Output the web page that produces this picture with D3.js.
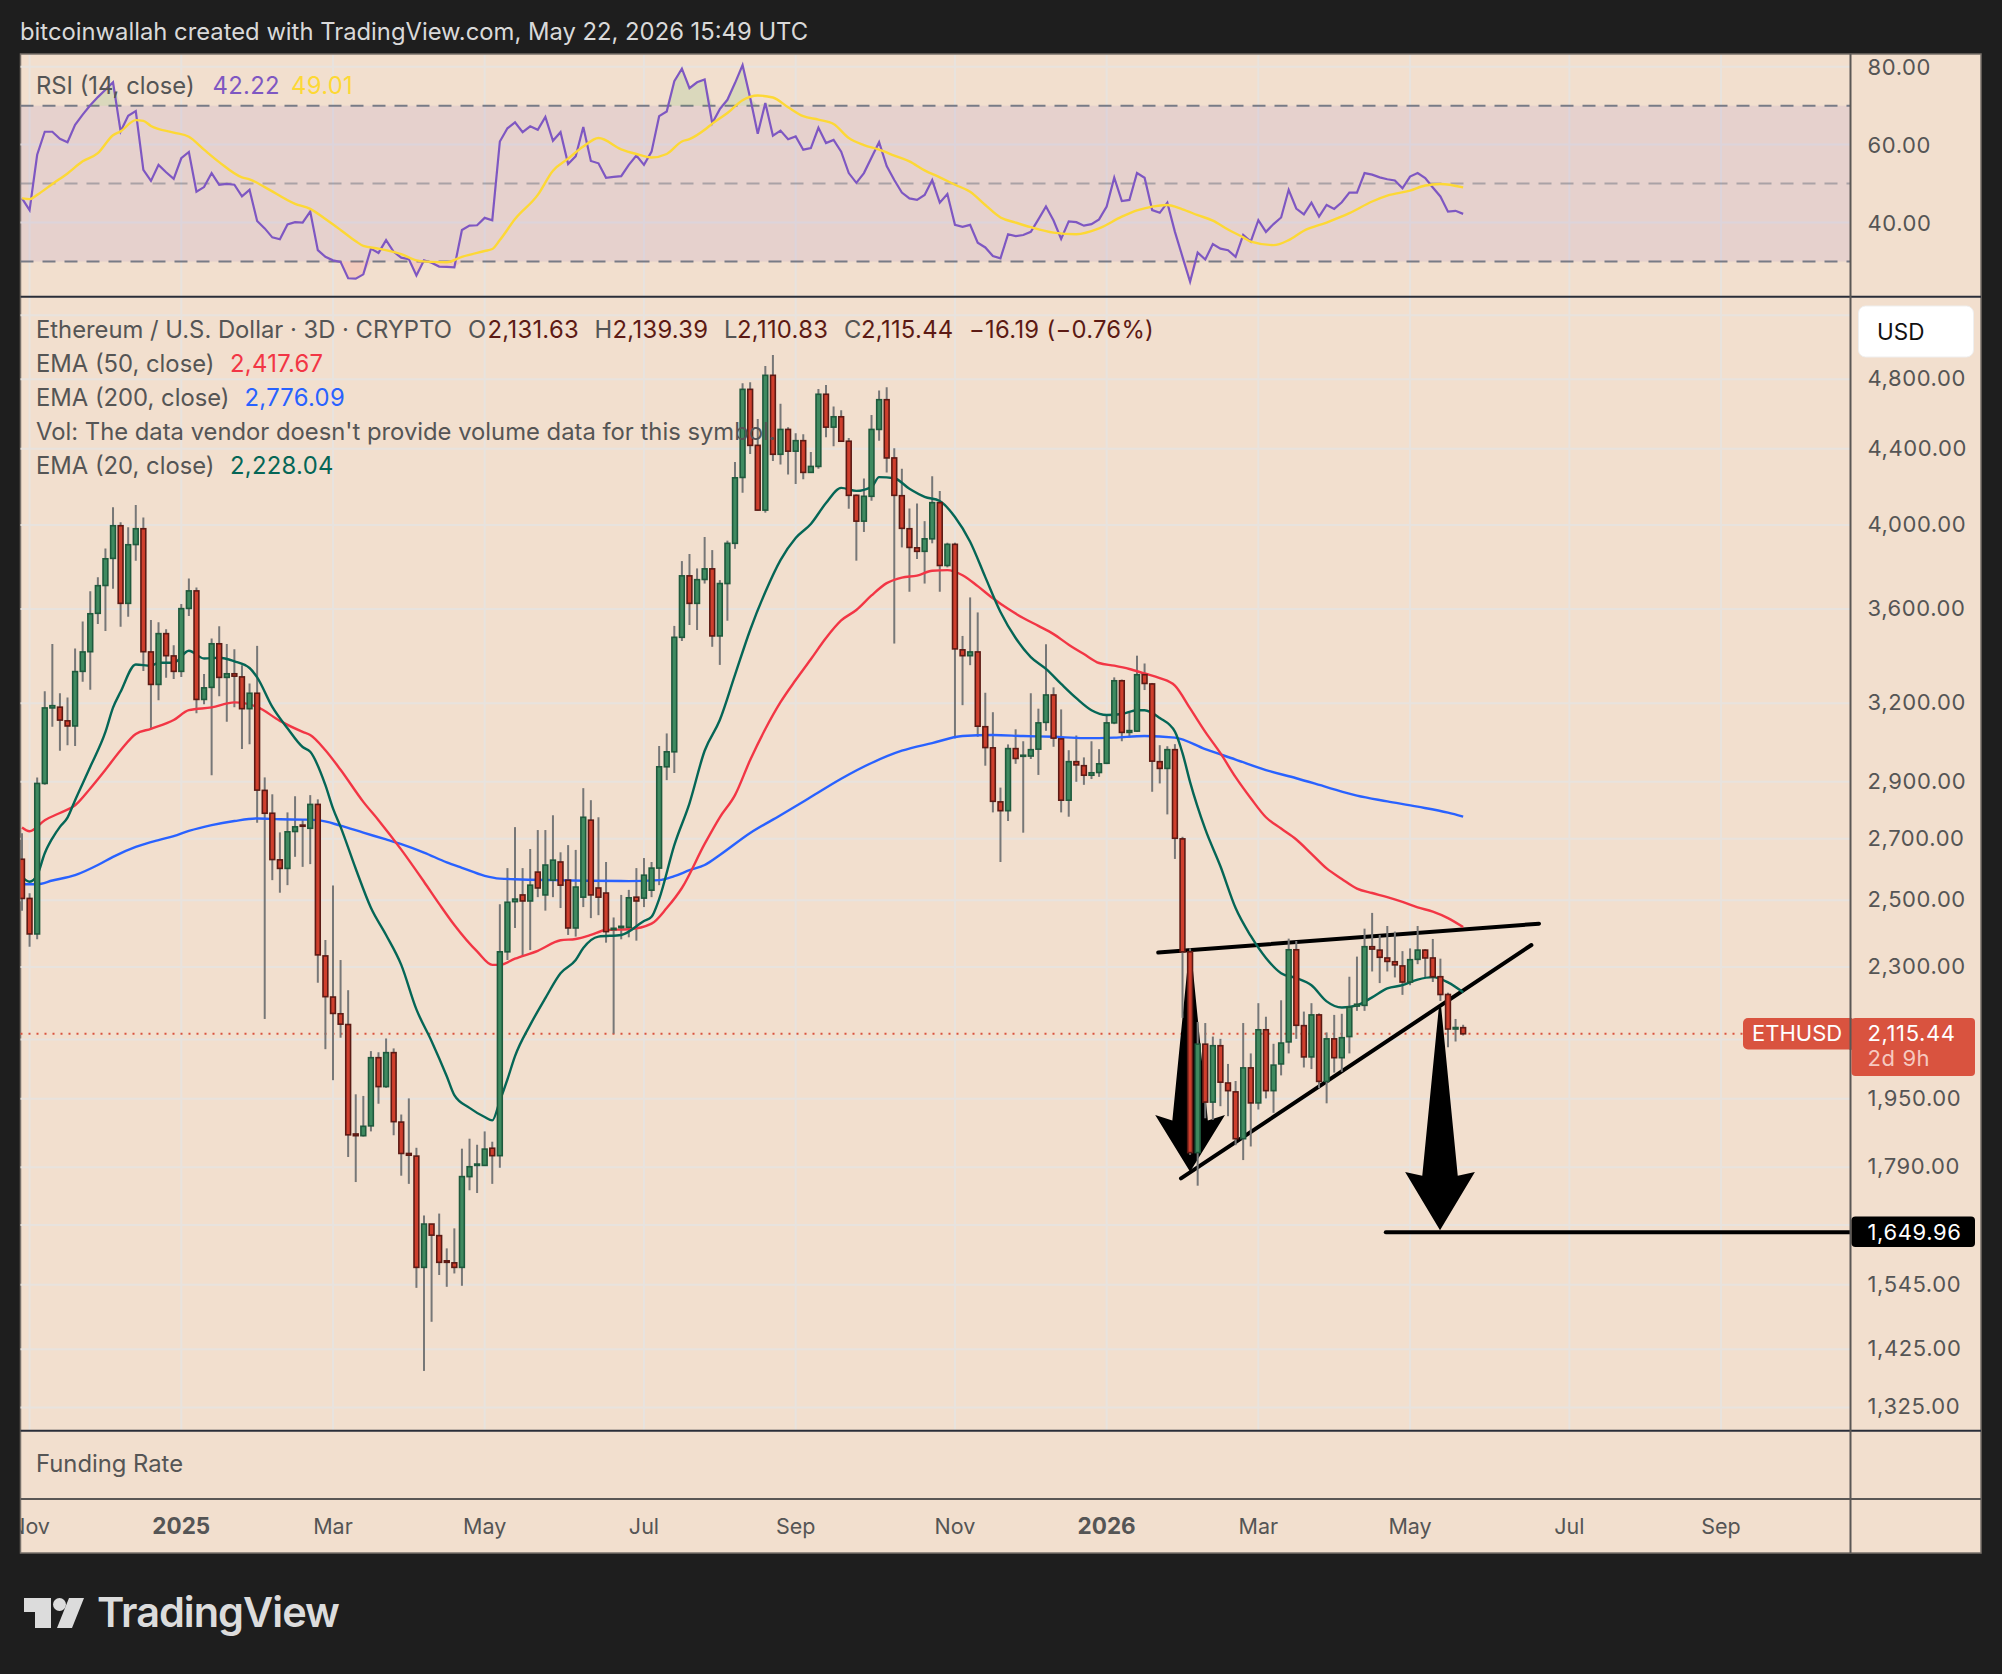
<!DOCTYPE html>
<html>
<head>
<meta charset="utf-8">
<title>ETHUSD</title>
<script src="https://cdn.jsdelivr.net/npm/d3@7"></script>
<style>
html, body { margin: 0; padding: 0; background: #1e1e1e; }
svg { display: block; font-family: Inter, "Noto Sans", sans-serif; }
</style>
</head>
<body>
<div id="chart"></div>
<script>
// candles, one row per 3D bar
var opens = [2632,2506,2397,2894,3181,3184,3130,3110,3330,3413,
    3581,3708,3836,3996,3626,3903,3981,3412,3276,3491,
    3395,3330,3603,3683,3215,3264,3447,3305,3320,3307,
    3178,3240,2869,2788,2630,2602,2725,2747,2736,2819,
    2332,2215,2169,2140,1866,1862,1885,2053,1980,2066,
    1894,1821,1815,1579,1667,1643,1592,1588,1579,1769,
    1794,1794,1833,1816,2344,2496,2517,2498,2590,2517,
    2564,2623,2564,2415,2510,2764,2539,2523,2410,2416,
    2417,2510,2507,2532,2603,2955,3011,3475,3753,3626,
    3736,3786,3481,3717,3909,4245,4740,4419,4075,4824,
    4370,4508,4387,4445,4272,4304,4711,4521,4580,4442,
    4151,4019,4146,4508,4679,4350,4149,3981,3887,3870,
    3931,4113,3802,3904,3421,3396,3412,3107,3026,2828,
    2797,3023,2994,2995,3021,3124,3233,3060,2834,2974,
    2959,2924,2934,2968,3122,3291,3085,3090,3316,3278,
    2974,2949,3019,2700,2344,1823,2088,1942,2084,1989,
    1967,1855,2027,1940,2126,1970,2037,2094,2350,2137,
    2055,2166,1993,2102,2053,2108,2190,2192,2359,2349,
    2326,2315,2303,2257,2322,2349,2326,2272,2222,2128,
    2131.63];
var highs = [2719,2522,2916,3248,3446,3240,3223,3427,3545,3681,
    3746,3884,4089,4013,3988,4101,4038,3551,3541,3510,
    3441,3623,3741,3699,3319,3470,3524,3446,3424,3356,
    3280,3438,2916,2855,2722,2791,2848,2764,2852,2837,
    2379,2547,2320,2234,1961,1957,2070,2067,2103,2077,
    1912,1951,1834,1685,1667,1689,1617,1658,1832,1855,
    1841,1872,1848,2488,2603,2740,2603,2666,2730,2730,
    2781,2655,2679,2663,2877,2834,2774,2623,2447,2517,
    2533,2603,2636,2623,3033,3081,3525,3823,3857,3788,
    3940,3876,3733,3922,4328,4776,4782,4567,4880,4948,
    4656,4521,4487,4481,4382,4742,4766,4640,4618,4460,
    4155,4240,4590,4733,4752,4403,4291,4083,4109,4019,
    4252,4173,3912,3912,3481,3653,3585,3242,3164,2879,
    3039,3097,3051,3240,3178,3445,3264,3175,3017,3073,
    2990,3051,3021,3153,3305,3296,3163,3396,3363,3282,
    3036,3032,3040,2707,2354,2147,2144,2108,2102,2037,
    1994,2144,2064,2198,2161,2089,2206,2383,2376,2175,
    2198,2170,2119,2166,2169,2272,2330,2413,2461,2394,
    2421,2404,2346,2354,2421,2352,2382,2324,2227,2155,
    2139.39];
var lows = [2468,2359,2381,2889,3107,3015,3036,3033,3287,3254,
    3533,3503,3693,3521,3566,3825,3331,3101,3212,3303,
    3298,3307,3569,3160,3196,2924,3228,3126,3184,3022,
    3040,2755,2155,2564,2524,2548,2640,2607,2616,2255,
    2075,1996,2105,1813,1757,1860,1872,1938,1977,1863,
    1771,1753,1539,1387,1475,1564,1541,1567,1543,1739,
    1733,1794,1753,1789,2320,2415,2330,2349,2510,2468,
    2510,2476,2394,2389,2479,2445,2454,2371,2116,2381,
    2387,2377,2479,2510,2548,2906,2932,3459,3529,3507,
    3717,3434,3357,3548,3882,4165,4372,4072,4062,4334,
    4315,4261,4210,4236,4270,4291,4464,4414,4438,4082,
    3825,3965,4123,4445,4272,3448,3889,3679,3833,3717,
    3909,3679,3793,3062,3192,3356,3068,2959,2791,2623,
    2761,2966,2721,2984,2925,3091,3030,2791,2776,2900,
    2889,2910,2918,2965,3117,3051,3065,3087,3253,2864,
    2894,2784,2633,2158,1818,1749,1903,1899,1932,1908,
    1840,1806,1837,1924,1951,1916,2008,2064,2102,2028,
    2024,1976,1939,2015,2017,2064,2177,2177,2287,2254,
    2287,2270,2221,2248,2308,2270,2257,2204,2080,2095,
    2110.83];
var closes = [2506,2397,2894,3181,3190,3133,3110,3329,3412,3579,
    3707,3834,3996,3626,3902,3981,3413,3276,3491,3396,
    3330,3602,3683,3215,3262,3447,3305,3320,3310,3178,
    3240,2870,2788,2631,2602,2724,2741,2743,2819,2335,
    2216,2170,2141,1864,1862,1884,2053,1980,2066,1895,
    1821,1817,1579,1667,1644,1589,1589,1579,1769,1791,
    1797,1831,1816,2344,2494,2504,2498,2548,2539,2613,
    2629,2548,2415,2542,2774,2517,2510,2404,2414,2420,
    2508,2498,2580,2603,2955,3011,3475,3753,3626,3735,
    3786,3481,3717,3909,4243,4740,4419,4075,4824,4370,
    4508,4387,4445,4272,4304,4711,4521,4580,4442,4151,
    4019,4146,4508,4679,4350,4151,3983,3889,3870,3931,
    4113,3802,3904,3425,3396,3412,3109,3027,2830,2797,
    3023,2986,2998,3019,3122,3233,3063,2834,2974,2962,
    2924,2933,2966,3122,3291,3085,3092,3316,3280,2976,
    2949,3019,2702,2344,1823,2088,1942,2084,1991,1970,
    1855,2027,1940,2126,1970,2034,2091,2350,2138,2055,
    2166,1993,2102,2053,2105,2187,2195,2359,2352,2328,
    2316,2306,2257,2321,2349,2326,2272,2222,2128,2132,
    2115.44];

// moving averages, read at the bars listed
var ema20Bars = [0,1,2,3,4,5,6,7,9,11,12,13,15,17,18,20,22,24,26,28,30,31,33,35,37,38,40,41,42,44,46,48,50,52,54,56,57,59,61,62,63,64,65,67,69,71,73,74,76,79,82,83,84,86,88,90,92,94,96,98,100,102,104,106,108,110,112,113,115,117,119,121,123,125,127,129,131,133,135,137,139,141,143,145,147,148,150,152,153,154,156,158,160,162,164,166,168,170,172,174,176,178,180,182,184,186,188,190];
var ema20Values = [2575,2559,2580,2652,2702,2741,2773,2834,2955,3087,3182,3246,3359,3353,3366,3366,3417,3384,3387,3372,3344,3305,3185,3101,3029,3011,2888,2805,2741,2601,2477,2394,2306,2181,2096,2006,1959,1928,1906,1898,1945,1998,2057,2139,2212,2282,2320,2355,2389,2394,2436,2449,2504,2679,2823,3015,3133,3315,3507,3678,3828,3935,4005,4111,4190,4174,4195,4247,4241,4185,4143,4122,4040,3917,3747,3587,3472,3390,3340,3278,3220,3172,3153,3157,3172,3172,3141,3088,3006,2899,2733,2609,2476,2391,2326,2282,2268,2248,2203,2186,2192,2214,2239,2248,2264,2271,2256,2228.04];

var ema50Bars = [0,1,3,5,7,9,11,13,15,17,20,22,25,28,31,34,37,38,40,42,45,47,50,53,55,57,60,62,63,65,68,71,73,75,77,80,83,85,87,90,92,94,96,98,100,102,104,106,108,110,112,114,116,118,120,122,124,126,128,130,132,134,136,138,140,142,144,146,148,150,152,154,156,158,160,162,164,166,168,170,172,174,176,178,180,182,184,186,188,190];
var ema50Values = [2739,2726,2764,2789,2816,2876,2944,3017,3079,3099,3133,3172,3183,3203,3185,3130,3087,3075,3017,2944,2828,2764,2664,2559,2489,2424,2345,2306,2306,2324,2347,2378,2382,2394,2409,2411,2428,2476,2539,2683,2774,2852,2980,3098,3204,3294,3381,3472,3549,3596,3662,3719,3745,3754,3777,3780,3756,3705,3649,3601,3560,3525,3489,3443,3403,3365,3354,3340,3321,3302,3271,3179,3087,3006,2917,2841,2774,2735,2698,2650,2602,2568,2537,2523,2510,2495,2478,2465,2445,2417.67];

var ema200Bars = [0,2,4,7,10,12,15,18,20,22,25,28,31,34,37,39,42,45,48,50,53,56,58,61,63,65,70,75,80,84,86,88,90,92,96,100,104,108,112,116,120,124,128,132,136,140,144,148,152,156,160,164,168,172,176,180,184,188,190];
var ema200Values = [2551,2551,2563,2580,2613,2640,2673,2696,2709,2727,2747,2761,2770,2767,2766,2764,2745,2721,2698,2682,2654,2622,2604,2578,2569,2567,2564,2562,2561,2564,2577,2596,2613,2646,2720,2781,2845,2911,2969,3015,3044,3071,3075,3071,3068,3063,3065,3071,3065,3021,2982,2943,2913,2881,2850,2830,2811,2790,2776.09];

// RSI pane
var rsiValues = [46.2,43.2,57.4,63.3,63.3,61.5,60.6,65.1,67.7,70.1,
    72.2,74.1,76,63.4,67.4,68.6,53.5,50.7,54.8,52.9,
    51.2,56.5,58.1,47.9,49.1,52.7,49.7,49.9,49.7,46.7,
    48.4,40.4,38.5,36.2,35.7,39.5,40.1,40,42.8,32.9,
    31.2,30.3,29.9,25.7,25.6,26.7,33.3,32.2,35.5,32.5,
    31,30.6,26.4,30.3,29.7,28.7,28.6,28.5,38.1,39.2,
    39.3,41.2,40.6,60.8,64.2,65.7,63.2,64.7,63.8,67.1,
    61,63.2,55,57,64.5,55.8,55.2,51.5,51.7,51.9,
    54.8,57.2,54.8,58.2,67.3,68.5,76.3,79.5,74.5,76,
    76.7,65.5,69.1,71.5,75.8,80.4,72,62.8,70.7,62.3,
    63.6,61.4,62.1,58.7,59.1,64.3,60.4,61.2,58.2,52.7,
    50.2,52.7,56.7,60.6,54.5,50.9,47.7,46.2,45.8,47.1,
    50.9,45.1,47.3,39.4,38.9,39.4,34.8,33.6,31.4,30.8,
    37,36.5,36.8,37.6,40.8,44.1,40.5,35.8,40.3,40.1,
    39.2,39.6,40.8,44.1,51.5,45.5,45.8,52.7,51.5,43.2,
    42.5,45.1,37.6,31.2,24.8,32.3,30.5,34.5,33.3,32.9,
    31.2,36.8,35.1,40.6,37.6,39.6,41.3,48.4,43.6,42.1,
    45.1,41.5,44.5,43.5,45.2,47.7,47.7,52.7,52.3,51.6,
    51.1,50.8,48.8,51.8,52.7,51.4,49,46.7,42.8,43,
    42.22];
var rsiMaBars = [0,1,2,4,6,8,10,12,13,15,16,17,20,22,24,26,29,30,32,36,38,40,42,44,45,47,50,52,54,56,58,61,62,63,65,68,70,72,74,76,79,81,83,85,87,88,90,91,93,95,97,99,101,103,105,107,109,111,113,115,117,119,121,123,125,127,129,131,133,136,139,142,145,147,149,151,153,155,157,159,161,162,165,167,169,172,175,178,180,183,185,187,190];
var rsiMaValues = [46.2,46,47.1,49.9,52.6,55.7,57.8,62.4,63.4,66.3,66.1,64.8,63.1,62,58.7,55.5,51.6,51.1,49.1,44.8,43.5,40.9,38.1,35.2,34,33.3,31.9,30.3,29.9,29.8,31.2,32.7,33.2,35.5,40.9,47.1,53.3,56.4,59.5,61.7,58.8,57.6,56.7,57.6,60.8,61.4,63.8,65.4,68.1,71.4,72.6,72.1,69.6,67.3,66.4,65.3,61.7,59.9,58.7,57.2,55.7,53.4,51.6,49.7,47.9,44.5,41.3,40,38.8,37.4,37,38.5,41.5,43.1,44.1,44.5,43.4,41.9,40.5,38.2,36.2,35.1,34.2,35.5,37.9,40,42.4,45.4,46.9,48.2,49.5,49.9,49.01];

// axes
var gridPrices = [5200,4800,4400,4000,3600,3200,2900,2700,2500,2300,2100,1950,1790,1665,1545,1425,1325];
var priceTicks = [4800,4400,4000,3600,3200,2900,2700,2500,2300,1950,1790,1545,1425,1325];
var rsiTicks = [80,60,40];
var rsiLevels = [70,50,30];
var monthBars = [1,21,41,61,82,102,123,143,163,183,204,224];
var monthLabels = ["Nov","2025","Mar","May","Jul","Sep","Nov","2026","Mar","May","Jul","Sep"];

// hand drawn lines on the chart, [bar, price]
var resistanceLine = [[149.8,2342],[200,2428]];
var supportLine = [[152.8,1765],[199,2364]];
var targetLine = [[179.8,1649.96],[241,1649.96]];
// arrows: centre bar, top price, notch price, wing price, tip price
var arrowBars = [154,186.95];
var arrowTops = [2342,2187];
var arrowNotches = [1898,1771];
var arrowWings = [1911,1779];
var arrowTips = [1780,1654];

var lastPrice = 2115.44;
var targetPrice = 1649.96;

var paper = "#f2dfce";
var bg = "#1e1e1e";
var gridColor = "#e8e3de";
var textColor = "#555555";
var sepColor = "#2a2e39";
var axisLineColor = "#5a5755";
var priceRed = "#d9533f";

var L = 20.5, R = 1981, axisX = 1850.5;

var x = d3.scaleLinear().domain([0,190]).range([22, 22 + 190*7.585]);
var y = d3.scaleLog().domain([1286.5,5321]).range([1431,297]);
var yRsi = d3.scaleLinear().domain([30,80]).range([261.5,66.7]);

var svg = d3.select("#chart").append("svg").attr("width",2002).attr("height",1674);

svg.append("rect").attr("width",2002).attr("height",1674).attr("fill",bg);
svg.append("rect").attr("x",L).attr("y",54).attr("width",R-L).attr("height",1499)
    .attr("fill",paper).attr("stroke","#77706a").attr("stroke-width",1.5);

var defs = svg.append("defs");
defs.append("clipPath").attr("id","clipMain").append("rect")
    .attr("x",L).attr("y",297).attr("width",axisX-L).attr("height",1134);
defs.append("clipPath").attr("id","clipRsi").append("rect")
    .attr("x",L).attr("y",55).attr("width",axisX-L).attr("height",241);
defs.append("clipPath").attr("id","clipTime").append("rect")
    .attr("x",L).attr("y",1500).attr("width",axisX-L).attr("height",52);

// grid
var gridG = svg.append("g").attr("stroke",gridColor).attr("stroke-width",2);
gridG.selectAll(".v1").data(monthBars).enter().append("line")
    .attr("x1",d => x(d)).attr("x2",d => x(d)).attr("y1",55).attr("y2",1430);
gridG.selectAll(".h1").data(gridPrices).enter().append("line")
    .attr("x1",L).attr("x2",axisX).attr("y1",d => y(d)).attr("y2",d => y(d));
gridG.selectAll(".h2").data(rsiTicks).enter().append("line")
    .attr("x1",L).attr("x2",axisX).attr("y1",d => yRsi(d)).attr("y2",d => yRsi(d));

// RSI pane
var rsiG = svg.append("g").attr("clip-path","url(#clipRsi)");
rsiG.append("rect").attr("x",L).attr("width",axisX-L)
    .attr("y",yRsi(70)).attr("height",yRsi(30)-yRsi(70))
    .attr("fill","#7e57c2").attr("fill-opacity",0.1);
rsiG.selectAll(".lvl").data(rsiLevels).enter().append("line")
    .attr("x1",L).attr("x2",axisX).attr("y1",d => yRsi(d)).attr("y2",d => yRsi(d))
    .attr("stroke","#787b86").attr("stroke-width",2).attr("stroke-dasharray","13,9")
    .attr("stroke-opacity",d => d == 50 ? 0.55 : 1);

var rsiArea70 = d3.area().x((d,i) => x(i)).y0(yRsi(70)).y1(d => yRsi(Math.max(d,70)));
var rsiArea30 = d3.area().x((d,i) => x(i)).y0(yRsi(30)).y1(d => yRsi(Math.min(d,30)));
rsiG.append("path").attr("d",rsiArea70(rsiValues)).attr("fill","#4caf50").attr("fill-opacity",0.14);
rsiG.append("path").attr("d",rsiArea30(rsiValues)).attr("fill","#ff5252").attr("fill-opacity",0.14);

var rsiLine = d3.line().x((d,i) => x(i)).y(d => yRsi(d));
rsiG.append("path").attr("d",rsiLine(rsiValues)).attr("fill","none")
    .attr("stroke","#7e57c2").attr("stroke-width",2.2);
var rsiMaLine = d3.line().x(d => x(d[0])).y(d => yRsi(d[1])).curve(d3.curveMonotoneX);
rsiG.append("path").attr("d",rsiMaLine(d3.zip(rsiMaBars,rsiMaValues))).attr("fill","none")
    .attr("stroke","#fdd835").attr("stroke-width",2.4);

// last price dotted line
svg.append("line").attr("x1",L).attr("x2",1743).attr("y1",y(lastPrice)).attr("y2",y(lastPrice))
    .attr("stroke",priceRed).attr("stroke-width",2).attr("stroke-dasharray","2,6");

var mainG = svg.append("g").attr("clip-path","url(#clipMain)");

// drawings sit under the candles
var priceLine = d3.line().x(d => x(d[0])).y(d => y(d[1]));
[resistanceLine,supportLine,targetLine].forEach(function(pts) {
    mainG.append("path").attr("d",priceLine(pts)).attr("fill","none")
        .attr("stroke","#000").attr("stroke-width",4).attr("stroke-linecap","round");
});
arrowBars.forEach(function(bar,k) {
    var shaft = 2.34, wing = 4.6;
    var pts = [
        [bar-0.15,arrowTops[k]],[bar+0.15,arrowTops[k]],
        [bar+shaft,arrowNotches[k]],[bar+wing,arrowWings[k]],
        [bar,arrowTips[k]],
        [bar-wing,arrowWings[k]],[bar-shaft,arrowNotches[k]]
    ];
    mainG.append("path").attr("d",priceLine(pts)+"Z").attr("fill","#000");
});

// EMAs
var emaLine = d3.line().x(d => x(d[0])).y(d => y(d[1])).curve(d3.curveMonotoneX);
var emas = [[ema200Bars,ema200Values,"#2962ff"],[ema50Bars,ema50Values,"#f23645"],[ema20Bars,ema20Values,"#056656"]];

// candles
var candles = d3.range(opens.length).map(i => ({i:i,o:opens[i],h:highs[i],l:lows[i],c:closes[i]}));
mainG.selectAll(".wick").data(candles).enter().append("line")
    .attr("x1",d => x(d.i)).attr("x2",d => x(d.i))
    .attr("y1",d => y(d.h)).attr("y2",d => y(d.l))
    .attr("stroke","#777777").attr("stroke-width",2);

emas.forEach(function(e) {
    mainG.append("path").attr("d",emaLine(d3.zip(e[0],e[1]))).attr("fill","none")
        .attr("stroke",e[2]).attr("stroke-width",2.4);
});

mainG.selectAll(".body").data(candles).enter().append("rect")
    .attr("x",d => x(d.i)-2.4).attr("width",4.8)
    .attr("y",d => y(Math.max(d.o,d.c)))
    .attr("height",d => Math.max(0.5,y(Math.min(d.o,d.c))-y(Math.max(d.o,d.c))))
    .attr("fill",d => d.c >= d.o ? "#3f8a60" : "#cf3f2d")
    .attr("stroke",d => d.c >= d.o ? "#1f5a3d" : "#5c1a14")
    .attr("stroke-width",1.6);

// panes and axis lines
svg.append("line").attr("x1",L).attr("x2",R).attr("y1",296.7).attr("y2",296.7).attr("stroke",sepColor).attr("stroke-width",2);
svg.append("line").attr("x1",L).attr("x2",R).attr("y1",1430.7).attr("y2",1430.7).attr("stroke",sepColor).attr("stroke-width",2);
svg.append("line").attr("x1",L).attr("x2",R).attr("y1",1499).attr("y2",1499).attr("stroke",axisLineColor).attr("stroke-width",2);
svg.append("line").attr("x1",axisX).attr("x2",axisX).attr("y1",54).attr("y2",1553).attr("stroke",axisLineColor).attr("stroke-width",2);

function label(xp,yp,txt,color,size,weight) {
    return svg.append("text").attr("x",xp).attr("y",yp).attr("fill",color)
        .attr("font-size",(size || 23.8) + "px").attr("font-weight",weight || 400).text(txt);
}
// numbers run a bit wider than the words in the legend
function num(xp,yp,txt,color) {
    return label(xp,yp,txt,color).attr("letter-spacing","0.3px");
}

// header
label(20,40,"bitcoinwallah created with TradingView.com, May 22, 2026 15:49 UTC","#d9d9d9");

// legends
label(36,94,"RSI (14, close)",textColor);
num(212.5,94,"42.22","#7e57c2");
num(291,94,"49.01","#fdd835");

var ohlcColor = "#5c1a14";
label(36,338,"Ethereum / U.S. Dollar · 3D · CRYPTO",textColor);
label(468,338,"O",textColor); num(487.5,338,"2,131.63",ohlcColor);
label(594.5,338,"H",textColor); num(612.5,338,"2,139.39",ohlcColor);
label(724,338,"L",textColor); num(737,338,"2,110.83",ohlcColor);
label(844,338,"C",textColor); num(861,338,"2,115.44",ohlcColor);
num(969,338,"−16.19 (−0.76%)",ohlcColor);
label(36,372,"EMA (50, close)",textColor); num(230,372,"2,417.67","#f23645");
label(36,406,"EMA (200, close)",textColor); num(244.5,406,"2,776.09","#2962ff");
label(36,440,"Vol: The data vendor doesn't provide volume data for this symbol.",textColor);
label(36,474,"EMA (20, close)",textColor); num(230,474,"2,228.04","#056656");
label(36,1472,"Funding Rate",textColor);

// right axis labels
var axisFormat = d3.format(",.2f");
priceTicks.forEach(function(p) {
    label(1867.5,y(p)+7,axisFormat(p),textColor,22).attr("letter-spacing","0.6px");
});
rsiTicks.forEach(function(v) {
    label(1867.5,yRsi(v)+8,axisFormat(v),textColor,22).attr("letter-spacing","0.6px");
});

// USD box
svg.append("rect").attr("x",1858.5).attr("y",306).attr("width",115).attr("height",51).attr("rx",7)
    .attr("fill","#ffffff").attr("stroke","#efefef");
label(1877,340,"USD","#111111",22.5);

// last price labels
svg.append("rect").attr("x",1743).attr("y",1018).attr("width",112).attr("height",31.5).attr("rx",5).attr("fill",priceRed);
svg.append("rect").attr("x",1851.5).attr("y",1018).attr("width",123.5).attr("height",58).attr("rx",4).attr("fill",priceRed);
label(1752,1041,"ETHUSD","#ffffff",22);
label(1867.5,1041,axisFormat(lastPrice),"#ffffff",22).attr("letter-spacing","0.6px");
label(1867.5,1066,"2d 9h","#f6c9c0",22).attr("letter-spacing","0.6px");
svg.append("line").attr("x1",axisX).attr("x2",axisX).attr("y1",1018).attr("y2",1050).attr("stroke",axisLineColor).attr("stroke-width",2);

// target price label
svg.append("rect").attr("x",1851.5).attr("y",1216.5).attr("width",123.5).attr("height",30.5).attr("rx",4).attr("fill","#000000");
label(1867.5,1239.5,axisFormat(targetPrice),"#ffffff",22).attr("letter-spacing","0.6px");

// time axis
var timeG = svg.append("g").attr("clip-path","url(#clipTime)");
monthBars.forEach(function(b,i) {
    var isYear = monthLabels[i].length == 4;
    timeG.append("text").attr("x",x(b)).attr("y",1534).attr("text-anchor","middle")
        .attr("fill",textColor).attr("font-size",(isYear ? 22.5 : 21.5) + "px")
        .attr("font-weight",isYear ? 700 : 400)
        .text(monthLabels[i]);
});

// footer logo
var logoColor = "#dcdcdc";
var logoG = svg.append("g").attr("fill",logoColor);
logoG.append("path").attr("d","M24 1598H51V1628H35V1612H24Z");
logoG.append("circle").attr("cx",59.5).attr("cy",1604.5).attr("r",6.5);
logoG.append("path").attr("d","M69 1598H84L72 1628H57Z");
label(97,1627,"TradingView",logoColor,41.5,600).attr("letter-spacing","-1px");
</script>
</body>
</html>
